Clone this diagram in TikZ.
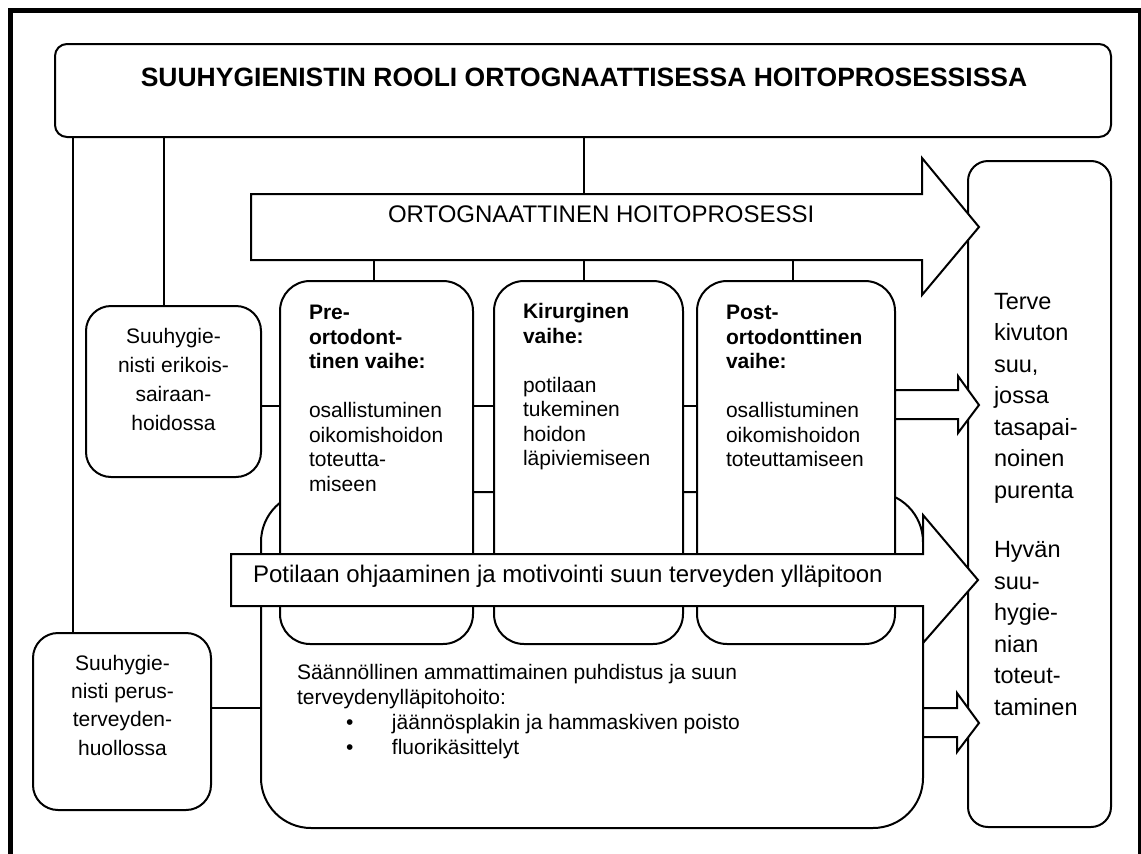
\documentclass[tikz,border=0pt]{standalone}
\usepackage{fontspec}
\setmainfont{Liberation Sans}
\begin{document}
\begin{tikzpicture}[x=1pt,y=-1pt,
  box/.style={draw, line width=2pt, fill=white, inner sep=0pt, outer sep=0pt},
  conn/.style={line width=1.6pt},
  arr/.style={draw, line width=2pt, fill=white, line join=miter},
  lbl/.style={inner sep=0pt, outer sep=0pt},
  fa/.style={font=\fontsize{21}{24.5}\selectfont},
  fb/.style={font=\fontsize{21}{28.3}\selectfont},
  fe/.style={font=\fontsize{21}{29.2}\selectfont},
  fc/.style={font=\fontsize{23.5}{31.5}\selectfont},
  fd/.style={font=\fontsize{24}{28}\selectfont},
]
\useasboundingbox (0,0) rectangle (1141,854);
% outer frame (open at the bottom)
\draw[line width=5pt] (10,854) -- (10,10) -- (1140.5,10) -- (1140.5,854);

% title
\node[box, rounded corners=12pt, minimum width=1056pt, minimum height=93pt] (title) at (583,90.5) {};
\node[lbl, anchor=base, font=\bfseries\fontsize{26.5}{30}\selectfont] (titletxt) at (584,86)
  {SUUHYGIENISTIN ROOLI ORTOGNAATTISESSA HOITOPROSESSISSA};

% left boxes
\node[box, rounded corners=25pt, minimum width=175pt, minimum height=171pt] (erik) at (173.5,391.5) {};
\node[lbl, fe, anchor=north, align=center] (eriktxt) at (173.5,328)
  {Suuhygie-\\nisti erikois-\\sairaan-\\hoidossa};
\node[box, rounded corners=25pt, minimum width=178pt, minimum height=177pt] (perus) at (122,721.5) {};
\node[lbl, fb, anchor=north, align=center] (perustxt) at (122.5,655)
  {Suuhygie-\\nisti perus-\\terveyden-\\huollossa};

% right result box
\node[box, rounded corners=20pt, minimum width=143pt, minimum height=666pt] (result) at (1039.5,494) {};
\node[lbl, fc, anchor=north west, align=left] (resulttxt) at (994,293)
  {Terve\\kivuton\\suu,\\jossa\\tasapai-\\noinen\\purenta\\[28pt]Hyvän\\suu-\\hygie-\\nian\\toteut-\\taminen};

% big maintenance box
\node[box, rounded corners=50pt, minimum width=662pt, minimum height=336pt] (big) at (592,660) {};
\node[lbl, fa, anchor=north west, align=left] (bigtxt) at (297,664)
  {Säännöllinen ammattimainen puhdistus ja suun\\[0.5pt]terveydenylläpitohoito:\\[1pt]%
   \hspace*{49pt}\makebox[46pt][l]{•}jäännösplakin ja hammaskiven poisto\\%
   \hspace*{49pt}\makebox[46pt][l]{•}fluorikäsittelyt};

% process arrow
\coordinate (psT) at (251,194);
\coordinate (psB) at (251,260);
\draw[arr] (psT) -- (922,194) -- (922,158) -- (979,227) -- (922,295) -- (922,260) -- (psB) -- cycle;
\node[lbl, fd, anchor=base west] (proctxt) at (388,222) {ORTOGNAATTINEN HOITOPROSESSI};

% phase boxes
\node[box, rounded corners=30pt, minimum width=193pt, minimum height=363pt] (ph1) at (376.5,462.5) {};
\node[box, rounded corners=30pt, minimum width=189pt, minimum height=363pt] (ph2) at (588.5,462.5) {};
\node[box, rounded corners=30pt, minimum width=198pt, minimum height=363pt] (ph3) at (796,462.5) {};
\node[lbl, fa, anchor=north west, align=left] (ph1txt) at (309,305.5)
  {\textbf{Pre-}\\\textbf{ortodont-}\\\textbf{tinen vaihe:}\\[24.5pt]osallistuminen\\oikomishoidon\\toteutta-\\miseen};
\node[lbl, fa, anchor=north west, align=left] (ph2txt) at (523,303.5)
  {\textbf{Kirurginen}\\\textbf{vaihe:}\\[24.5pt]potilaan\\tukeminen\\hoidon\\läpiviemiseen};
\node[lbl, fa, anchor=north west, align=left] (ph3txt) at (726,305.5)
  {\textbf{Post-}\\\textbf{ortodonttinen}\\\textbf{vaihe:}\\[24.5pt]osallistuminen\\oikomishoidon\\toteuttamiseen};

% motivation arrow
\draw[arr] (231,554) -- (923,554) -- (923,515) -- (978,580) -- (923,643) -- (923,606) -- (231,606) -- cycle;
\node[lbl, fd, anchor=base west] (mottxt) at (253,582)
  {Potilaan ohjaaminen ja motivointi suun terveyden ylläpitoon};

% small arrows to the result box
\draw[arr] (ph3.east |- 0,390) -- (958,390) -- (958,376) -- (979,405) -- (958,433) -- (958,419) -- (ph3.east |- 0,419) -- cycle;
\draw[arr] (big.east |- 0,708) -- (957,708) -- (957,693) -- (979,723) -- (957,752) -- (957,737) -- (big.east |- 0,737) -- cycle;

% connectors
\coordinate (vA) at (73,0);
\coordinate (vB) at (164,0);
\coordinate (vC) at (584,0);
\draw[conn] (title.south -| vA) -- (perus.north -| vA);
\draw[conn] (title.south -| vB) -- (erik.north -| vB);
\draw[conn] (title.south -| vC) -- (psT -| vC);
\coordinate (k1) at (374,0);
\coordinate (k2) at (584,0);
\coordinate (k3) at (793,0);
\draw[conn] (psB -| k1) -- (ph1.north -| k1);
\draw[conn] (psB -| k2) -- (ph2.north -| k2);
\draw[conn] (psB -| k3) -- (ph3.north -| k3);
\coordinate (hA) at (0,406);
\draw[conn] (erik.east |- hA) -- (ph1.west |- hA);
\draw[conn] (ph1.east |- hA) -- (ph2.west |- hA);
\draw[conn] (ph2.east |- hA) -- (ph3.west |- hA);
\coordinate (hB) at (0,708);
\draw[conn] (perus.east |- hB) -- (big.west |- hB);
\end{tikzpicture}
\end{document}
